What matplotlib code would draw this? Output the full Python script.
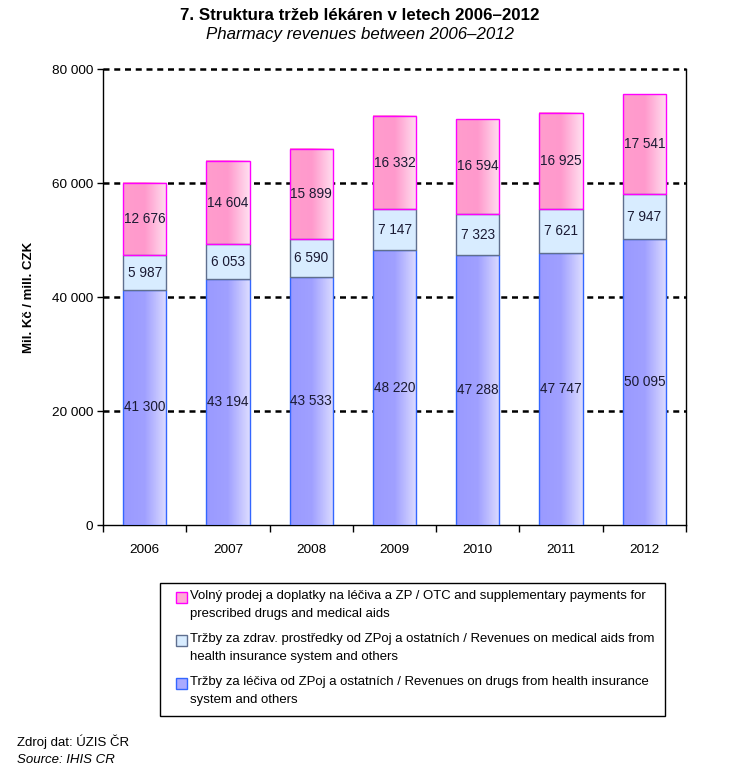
import matplotlib.pyplot as plt
import numpy as np
from matplotlib.colors import LinearSegmentedColormap
from matplotlib.patches import Rectangle
from matplotlib.ticker import FuncFormatter

plt.rcParams['font.family'] = ['Liberation Sans', 'DejaVu Sans']

# data
years = ['2006', '2007', '2008', '2009', '2010', '2011', '2012']
drugs = [41300, 43194, 43533, 48220, 47288, 47747, 50095]
aids = [5987, 6053, 6590, 7147, 7323, 7621, 7947]
otc = [12676, 14604, 15899, 16332, 16594, 16925, 17541]
legend_labels = [
    'Volný prodej a doplatky na léčiva a ZP / OTC and supplementary payments for\nprescribed drugs and medical aids',
    'Tržby za zdrav. prostředky od ZPoj a ostatních / Revenues on medical aids from\nhealth insurance system and others',
    'Tržby za léčiva od ZPoj a ostatních / Revenues on drugs from health insurance\nsystem and others',
]

fmt = lambda v: f'{v:,.0f}'.replace(',', ' ')

blue_cmap = LinearSegmentedColormap.from_list('b', ['#9a9aff', '#a0a0ff', '#dcdcff'])
pink_cmap = LinearSegmentedColormap.from_list('p', ['#ff9dcd', '#ff99cc', '#ffe0f0'])
grad = np.linspace(0, 1, 64).reshape(1, -1)

fig = plt.figure(figsize=(7.47, 7.71), dpi=100)
ax = fig.add_axes([103 / 747, 1 - 525 / 771, 583 / 747, 456 / 771])

x = np.arange(len(years))
w = 0.52
bottoms2 = np.array(drugs)
bottoms3 = bottoms2 + np.array(aids)

def grad_bars(vals, bottoms, cmap, edge):
    bars = ax.bar(x, vals, w, bottom=bottoms, facecolor='none', edgecolor=edge, linewidth=1.0, zorder=4)
    for b in bars:
        ax.imshow(grad, cmap=cmap, aspect='auto', zorder=3,
                  extent=(b.get_x(), b.get_x() + b.get_width(), b.get_y(), b.get_y() + b.get_height()))
    return bars

grad_bars(drugs, 0, blue_cmap, '#3366ff')
ax.bar(x, aids, w, bottom=bottoms2, facecolor='#d8ecff', edgecolor='#5f6f8f', linewidth=1.0, zorder=4)
grad_bars(otc, bottoms3, pink_cmap, '#ff00ff')

for i in range(len(years)):
    ax.text(x[i], drugs[i] / 2, fmt(drugs[i]), ha='center', va='center', fontsize=9.8, color='#1a1a33', zorder=5)
    ax.text(x[i], bottoms2[i] + aids[i] / 2, fmt(aids[i]), ha='center', va='center', fontsize=9.8, color='#1a1a33', zorder=5)
    ax.text(x[i], bottoms3[i] + otc[i] / 2, fmt(otc[i]), ha='center', va='center', fontsize=9.8, color='#1a1a33', zorder=5)

ax.set_xlim(-0.5, len(years) - 0.5)
ax.set_ylim(0, 80000)
ax.set_yticks(np.arange(0, 80001, 20000))
ax.yaxis.set_major_formatter(FuncFormatter(lambda v, p: fmt(v)))
ax.set_xticks(np.arange(-0.5, len(years), 1.0))
ax.set_xticklabels([])
ax.set_xticks(x, minor=True)
ax.set_xticklabels(years, minor=True)
ax.tick_params(axis='x', which='minor', length=0, pad=14, labelsize=9.7)
ax.tick_params(axis='x', which='major', length=5, width=1, direction='out')
ax.tick_params(axis='y', length=4, width=1, direction='out', labelsize=9.7, pad=3)
for gy in [20000, 40000, 60000, 80000]:
    ax.axhline(gy, color='black', linewidth=1.8, linestyle=(0, (2.4, 1.9)), zorder=1, clip_on=False)
ax.spines['top'].set_visible(False)
for s in ['left', 'bottom', 'right']:
    ax.spines[s].set_linewidth(1.0)
ax.set_ylabel('Mil. Kč / mill. CZK', fontsize=9.5, fontweight='bold', labelpad=12)

fig.text(360 / 747, 1 - 16 / 771, '7. Struktura tržeb lékáren v letech 2006–2012',
         ha='center', va='center', fontsize=12.2, fontweight='bold')
fig.text(360 / 747, 1 - 35 / 771, 'Pharmacy revenues between 2006–2012',
         ha='center', va='center', fontsize=12.2, style='italic')

# legend box drawn by hand
W, H = 747, 771
fig.patches.append(Rectangle((160 / W, 1 - 716 / H), 505 / W, 133 / H, transform=fig.transFigure,
                             facecolor='white', edgecolor='black', linewidth=1.0))
leg_colors = [('#ffaad5', '#ff00ff'), ('#d8ecff', '#5f6f8f'), ('#aaaaff', '#3366ff')]
for k, (lab, (fc, ec)) in enumerate(zip(legend_labels, leg_colors)):
    yc = 597 + k * 43
    fig.patches.append(Rectangle((176 / W, 1 - (yc + 5.5) / H), 11 / W, 11 / H, transform=fig.transFigure,
                                 facecolor=fc, edgecolor=ec, linewidth=1.0))
    fig.text(190 / W, 1 - (yc - 7) / H, lab, ha='left', va='top', fontsize=9.45, linespacing=1.7)

fig.text(17 / W, 1 - 742 / H, 'Zdroj dat: ÚZIS ČR', ha='left', va='center', fontsize=9.5)
fig.text(17 / W, 1 - 760 / H, 'Source: IHIS CR', ha='left', va='center', fontsize=9.5, style='italic')

fig.savefig('out.png', dpi=100)
